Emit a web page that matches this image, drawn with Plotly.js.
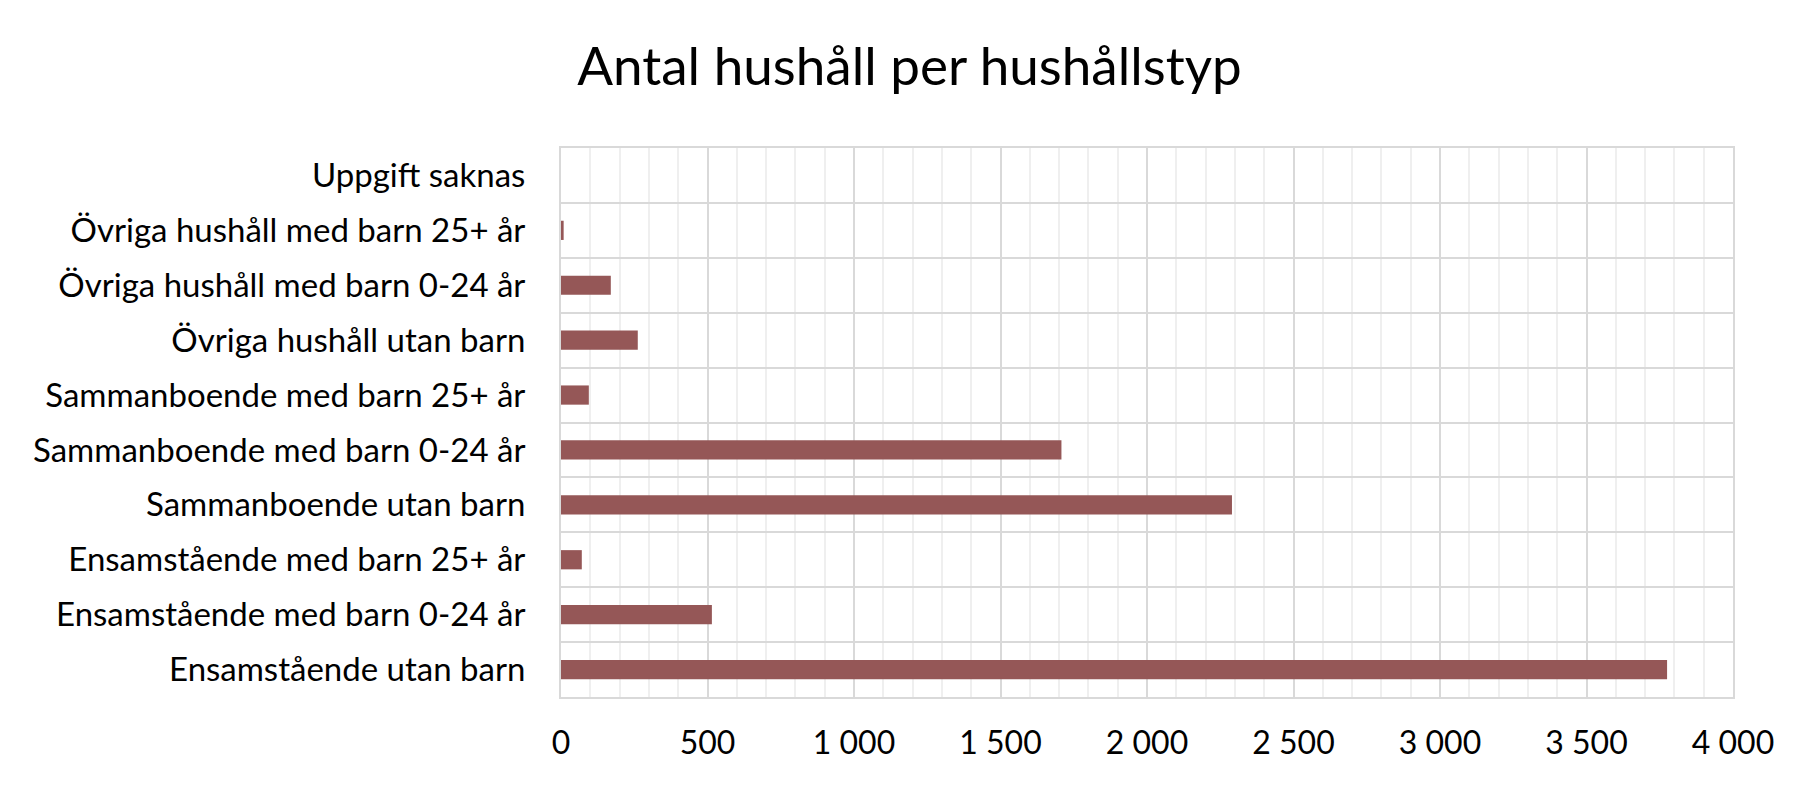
<!DOCTYPE html>
<html>
<head>
<meta charset="utf-8">
<script src="https://cdn.plot.ly/plotly-3.0.1.min.js"></script>
<style>html,body{margin:0;padding:0;background:#fff;}#chart{width:1819px;height:790px;}</style>
</head>
<body>
<div id="chart"></div>
<script>
// Categories listed bottom to top
const categories = [
  "Ensamstående utan barn",
  "Ensamstående med barn 0-24 år",
  "Ensamstående med barn 25+ år",
  "Sammanboende utan barn",
  "Sammanboende med barn 0-24 år",
  "Sammanboende med barn 25+ år",
  "Övriga hushåll utan barn",
  "Övriga hushåll med barn 0-24 år",
  "Övriga hushåll med barn 25+ år",
  "Uppgift saknas"
];
const households = [3775, 515, 71, 2290, 1708, 95, 262, 170, 9, 0];
const xTickValues = [0, 500, 1000, 1500, 2000, 2500, 3000, 3500, 4000];

const FONT = "Lato, 'Open Sans', sans-serif";

const trace = {
  type: "bar",
  orientation: "h",
  y: categories,
  x: households,
  marker: {color: "#955757", line: {width: 0}},
  hoverinfo: "x+y"
};

const layout = {
  width: 1819,
  height: 790,
  paper_bgcolor: "#ffffff",
  plot_bgcolor: "#ffffff",
  separators: ", ",
  showlegend: false,
  bargap: 0.65,
  margin: {l: 561, r: 86, t: 148, b: 93, pad: 0},
  title: {
    text: "Antal hushåll per hushållstyp",
    font: {family: FONT, size: 53, color: "#000000"},
    x: 0.5, xref: "container", xanchor: "center",
    y: 1 - 66 / 790, yref: "container", yanchor: "middle"
  },
  xaxis: {
    range: [0, 4000],
    tickvals: xTickValues,
    tickformat: ",d",
    tickfont: {family: FONT, size: 32, color: "#000000"},
    showgrid: true,
    gridcolor: "#d9d9d9",
    gridwidth: 2,
    minor: {dtick: 100, showgrid: true, gridcolor: "#efefef", gridwidth: 2},
    zeroline: false,
    showline: true,
    linecolor: "#d9d9d9",
    linewidth: 2,
    mirror: true,
    ticks: "",
    ticklabelstandoff: 17,
    fixedrange: true
  },
  yaxis: {
    type: "category",
    categoryorder: "array",
    categoryarray: categories,
    tickson: "boundaries",
    showgrid: true,
    gridcolor: "#d9d9d9",
    gridwidth: 2,
    zeroline: false,
    showline: true,
    linecolor: "#d9d9d9",
    linewidth: 2,
    mirror: true,
    ticks: "",
    tickfont: {family: FONT, size: 33, color: "#000000"},
    ticklabelstandoff: 27,
    fixedrange: true
  }
};

Plotly.newPlot("chart", [trace], layout, {displayModeBar: false, staticPlot: true});
</script>
</body>
</html>
